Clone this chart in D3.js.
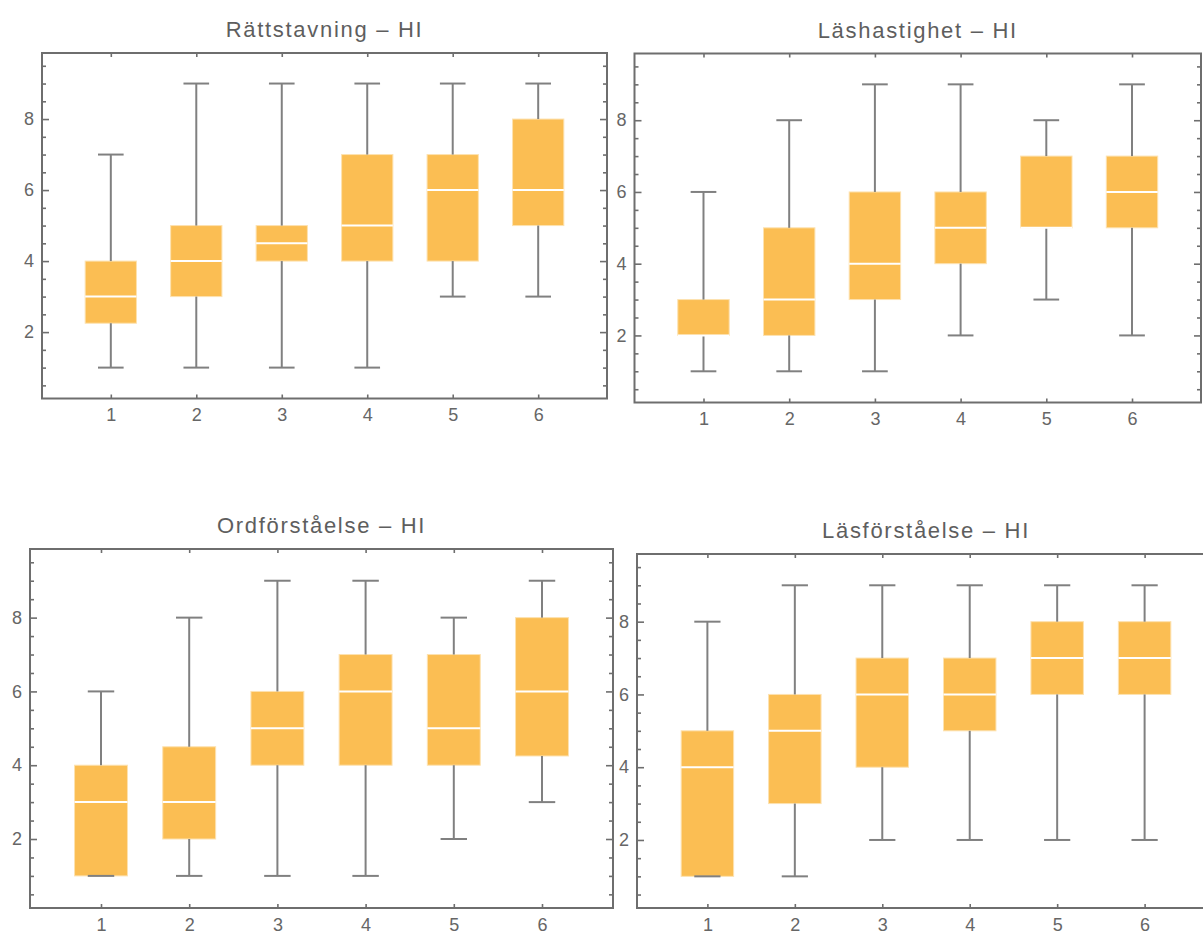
<!DOCTYPE html>
<html>
<head>
<meta charset="utf-8">
<script src="https://cdn.jsdelivr.net/npm/d3@7"></script>
<style>
  body { margin: 0; background: #fff; }
  svg { display: block; }
</style>
</head>
<body>
<svg id="chart" width="1203" height="936"></svg>
<script>
// categories on the x axis
const categories = [1, 2, 3, 4, 5, 6];

// each row: [min, q1, median, q3, max]
const rattstavning = [
    [1, 2.25, 3, 4, 7],
    [1, 3, 4, 5, 9],
    [1, 4, 4.5, 5, 9],
    [1, 4, 5, 7, 9],
    [3, 4, 6, 7, 9],
    [3, 5, 6, 8, 9]
];
const lashastighet = [
    [1, 2, 2, 3, 6],
    [1, 2, 3, 5, 8],
    [1, 3, 4, 6, 9],
    [2, 4, 5, 6, 9],
    [3, 5, 5, 7, 8],
    [2, 5, 6, 7, 9]
];
const ordforstaelse = [
    [1, 1, 3, 4, 6],
    [1, 2, 3, 4.5, 8],
    [1, 4, 5, 6, 9],
    [1, 4, 6, 7, 9],
    [2, 4, 5, 7, 8],
    [3, 4.25, 6, 8, 9]
];
const lasforstaelse = [
    [1, 1, 4, 5, 8],
    [1, 3, 5, 6, 9],
    [2, 4, 6, 7, 9],
    [2, 5, 6, 7, 9],
    [2, 6, 7, 8, 9],
    [2, 6, 7, 8, 9]
];

const titles = ['Rättstavning – HI', 'Läshastighet – HI', 'Ordförståelse – HI', 'Läsförståelse – HI'];
const yMajorTicks = [2, 4, 6, 8];
const yMinorTicks = [0.5, 1, 1.5, 2.5, 3, 3.5, 4.5, 5, 5.5, 6.5, 7, 7.5, 8.5, 9, 9.5];

const boxFill = '#fbbe53';
const grey = '#6e6e6e';

// frame of each panel in pixels
const panels = [
    { title: titles[0], data: rattstavning, x0: 42, x1: 607, y0: 53, y1: 398.5 },
    { title: titles[1], data: lashastighet, x0: 634.5, x1: 1201, y0: 53.5, y1: 402.5 },
    { title: titles[2], data: ordforstaelse, x0: 30, x1: 613, y0: 549, y1: 908 },
    { title: titles[3], data: lasforstaelse, x0: 637, x1: 1215, y0: 554, y1: 908 }
];

const svg = d3.select('#chart');

panels.forEach(drawPanel);

function drawPanel(p) {
    const g = svg.append('g');

    const x = d3.scaleLinear().domain([0.195, 6.805]).range([p.x0, p.x1]);
    const y = d3.scaleLinear().domain([0.13, 9.86]).range([p.y1, p.y0]);
    const step = x(2) - x(1);
    const boxW = step * 0.6;
    const capW = step * 0.3;

    // title
    g.append('text')
        .attr('x', (p.x0 + p.x1) / 2)
        .attr('y', p.y0 - 16)
        .attr('text-anchor', 'middle')
        .attr('font-family', '"Liberation Sans", Arial, sans-serif')
        .attr('font-size', 22)
        .attr('letter-spacing', '1.7px')
        .attr('fill', '#5e5e5e')
        .text(p.title);

    // left axis with labels
    const yAxis = g.append('g')
        .attr('transform', `translate(${p.x0},0)`)
        .call(d3.axisLeft(y).tickValues(yMajorTicks).tickSize(-7).tickPadding(8).tickFormat(d3.format('d')));
    const yMinor = g.append('g')
        .attr('transform', `translate(${p.x0},0)`)
        .call(d3.axisLeft(y).tickValues(yMinorTicks).tickSize(-4).tickFormat(''));

    // right side mirrors the ticks
    const yRight = g.append('g')
        .attr('transform', `translate(${p.x1},0)`)
        .call(d3.axisRight(y).tickValues(yMajorTicks).tickSize(-7).tickFormat(''));
    const yRightMinor = g.append('g')
        .attr('transform', `translate(${p.x1},0)`)
        .call(d3.axisRight(y).tickValues(yMinorTicks).tickSize(-4).tickFormat(''));

    // bottom + top category ticks
    const xAxis = g.append('g')
        .attr('transform', `translate(0,${p.y1})`)
        .call(d3.axisBottom(x).tickValues(categories).tickSize(-4).tickPadding(10).tickFormat(d3.format('d')));
    const xTop = g.append('g')
        .attr('transform', `translate(0,${p.y0})`)
        .call(d3.axisTop(x).tickValues(categories).tickSize(-4).tickFormat(''));

    [yAxis, yMinor, yRight, yRightMinor, xAxis, xTop].forEach(ax => {
        ax.select('.domain').remove();
        ax.selectAll('line').attr('stroke', grey).attr('stroke-width', 1.6);
        ax.selectAll('text')
            .attr('fill', '#666')
            .attr('font-family', '"Liberation Sans", Arial, sans-serif')
            .attr('font-size', 18);
    });

    // frame
    g.append('rect')
        .attr('x', p.x0)
        .attr('y', p.y0)
        .attr('width', p.x1 - p.x0)
        .attr('height', p.y1 - p.y0)
        .attr('fill', 'none')
        .attr('stroke', grey)
        .attr('stroke-width', 2);

    const items = p.data.map((d, i) => ({ cat: categories[i], min: d[0], q1: d[1], med: d[2], q3: d[3], max: d[4] }));

    // boxes
    g.selectAll('rect.box').data(items).enter()
        .append('rect')
        .attr('class', 'box')
        .attr('x', d => x(d.cat) - boxW / 2)
        .attr('y', d => y(d.q3))
        .attr('width', boxW)
        .attr('height', d => y(d.q1) - y(d.q3))
        .attr('fill', boxFill)
        .attr('stroke', '#fde2b0')
        .attr('stroke-width', 1);

    // whiskers
    const wg = g.append('g').attr('stroke', '#808080').attr('stroke-width', 2);
    wg.selectAll('line.upper').data(items).enter()
        .append('line')
        .attr('x1', d => x(d.cat)).attr('x2', d => x(d.cat))
        .attr('y1', d => y(d.q3)).attr('y2', d => y(d.max));
    wg.selectAll('line.lower').data(items).enter()
        .append('line')
        .attr('x1', d => x(d.cat)).attr('x2', d => x(d.cat))
        .attr('y1', d => y(d.q1)).attr('y2', d => y(d.min));
    wg.selectAll('line.capTop').data(items).enter()
        .append('line')
        .attr('x1', d => x(d.cat) - capW / 2).attr('x2', d => x(d.cat) + capW / 2)
        .attr('y1', d => y(d.max)).attr('y2', d => y(d.max));
    wg.selectAll('line.capBottom').data(items).enter()
        .append('line')
        .attr('x1', d => x(d.cat) - capW / 2).attr('x2', d => x(d.cat) + capW / 2)
        .attr('y1', d => y(d.min)).attr('y2', d => y(d.min));

    // medians
    g.selectAll('line.median').data(items).enter()
        .append('line')
        .attr('x1', d => x(d.cat) - boxW / 2)
        .attr('x2', d => x(d.cat) + boxW / 2)
        .attr('y1', d => y(d.med))
        .attr('y2', d => y(d.med))
        .attr('stroke', '#fff')
        .attr('stroke-width', 2);
}
</script>
</body>
</html>
